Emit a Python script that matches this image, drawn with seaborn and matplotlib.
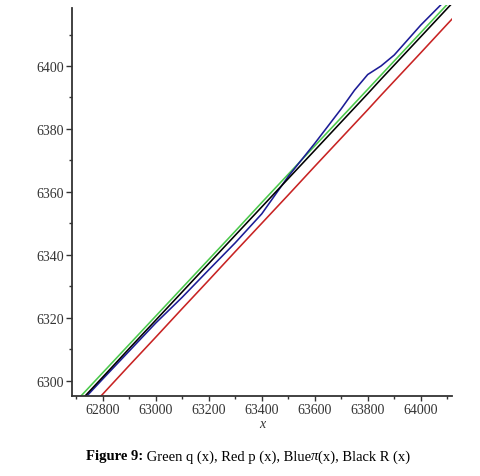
import matplotlib
matplotlib.use("Agg")
import matplotlib.pyplot as plt
from matplotlib.ticker import MultipleLocator
import seaborn as sns
import pandas as pd

# ---- data ----
x_vals = [62700, 62800, 62900, 63000, 63100, 63200, 63300, 63400,
          63500, 63600, 63700, 63750, 63800, 63850, 63900, 64000, 64100, 64150]
green_q = [6293.5, 6302.5, 6311.5, 6320.5, 6329.5, 6338.5, 6347.5, 6356.6,
           6365.6, 6374.6, 6383.6, 6388.1, 6392.6, 6397.1, 6401.6, 6410.6, 6419.6, 6424.1]
red_p = [6286.7, 6295.7, 6304.8, 6313.8, 6322.9, 6331.9, 6341.0, 6350.0,
         6359.0, 6368.1, 6377.1, 6381.6, 6386.1, 6390.7, 6395.2, 6404.2, 6413.3, 6417.8]
blue_pi = [6291.5, 6300.5, 6309.4, 6318.3, 6326.5, 6335.2, 6343.8, 6353.0,
           6364.9, 6375.4, 6386.4, 6392.3, 6397.3, 6400.0, 6403.5, 6413.0, 6421.5, 6425.5]
black_R = [6292.1, 6301.1, 6310.2, 6319.2, 6328.2, 6337.2, 6346.2, 6355.2,
           6364.2, 6373.2, 6382.2, 6386.7, 6391.2, 6395.8, 6400.3, 6409.3, 6418.3, 6422.8]

series_names = ["q", "p", "pi", "R"]
series_colors = {"q": "#4cc94c", "p": "#c82323", "pi": "#1c1c96", "R": "#000000"}
x_ticks = [62800, 63000, 63200, 63400, 63600, 63800, 64000]
y_ticks = [6300, 6320, 6340, 6360, 6380, 6400]
caption_parts = [("Figure 9:", "bold", "normal"),
                 (" Green q (x), Red p (x), Blue", "normal", "normal"),
                 ("\u03c0", "normal", "italic"),
                 ("(x), Black R (x)", "normal", "normal")]

df = pd.DataFrame({
    "x": x_vals * 4,
    "y": green_q + red_p + blue_pi + black_R,
    "series": sum([[n] * len(x_vals) for n in series_names], []),
})

sns.set_style("white")
plt.rcParams["font.family"] = ["Liberation Serif", "DejaVu Serif"]

fig = plt.figure(figsize=(4.81, 4.77), dpi=100)
W, H = 481, 477
left, right, top, bottom = 72, 452, 6, 397
ax = fig.add_axes([left / W, 1 - bottom / H, (right - left) / W, (bottom - top) / H])

for name in series_names:
    sns.lineplot(data=df[df["series"] == name], x="x", y="y", color=series_colors[name],
                 linewidth=1.15, ax=ax, legend=False, estimator=None, sort=True)

ax.set_xlim(62684, 64118)
ax.set_ylim(6295.1, 6419.4)

for s in ["top", "right"]:
    ax.spines[s].set_visible(False)
for s in ["left", "bottom"]:
    ax.spines[s].set_color("#333333")
    ax.spines[s].set_linewidth(1.3)
ax.spines["left"].set_bounds(6295.1, 6418.4)

ax.set_xticks(x_ticks)
ax.set_yticks(y_ticks)
ax.xaxis.set_minor_locator(MultipleLocator(100))
ax.yaxis.set_minor_locator(MultipleLocator(10))
ax.tick_params(axis="both", which="major", direction="out", length=4.5, width=1.0,
               color="#333333", labelsize=10, labelcolor="#333333", pad=1.5,
               bottom=True, left=True)
ax.tick_params(axis="both", which="minor", direction="out", length=2.5, width=1.0,
               color="#333333", bottom=True, left=True)
ax.tick_params(axis="x", which="major", length=3.5)

ax.set_xlabel("x", fontsize=10, fontstyle="italic", color="#333333", labelpad=1)
ax.set_ylabel("")

# caption built from pieces laid side by side, centred at x=248 px
renderer = fig.canvas.get_renderer()
texts = []
for s, wgt, sty in caption_parts:
    t = fig.text(0, 1 - 457 / H, s, fontsize=10.5, fontweight=wgt, fontstyle=sty,
                 ha="left", va="center", color="black")
    texts.append(t)
widths = [t.get_window_extent(renderer).width for t in texts]
x0 = 248 - sum(widths) / 2
for t, w in zip(texts, widths):
    t.set_x(x0 / W)
    x0 += w

fig.savefig("out.png", dpi=100)
